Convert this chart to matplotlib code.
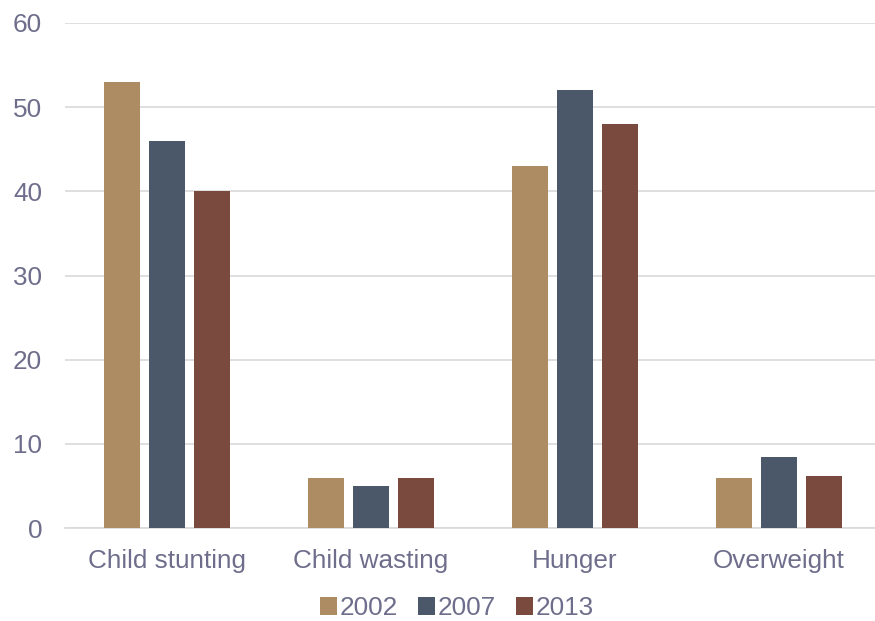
import matplotlib.pyplot as plt
import numpy as np

categories = ['Child stunting', 'Child wasting', 'Hunger', 'Overweight']
years = ['2002', '2007', '2013']
v2002 = [53, 6, 43, 5.9]
v2007 = [46, 5, 52, 8.4]
v2013 = [40, 6, 48, 6.2]

colors = ['#AD8C63', '#4A5869', '#7A4A3F']
txt = '#6E6E8C'

plt.rcParams['font.family'] = ['Liberation Sans', 'DejaVu Sans']

fig = plt.figure(figsize=(8.75, 6.21), dpi=100)
ax = fig.add_axes([65 / 875, 1 - 528 / 621, 816 / 875, 505 / 621])

x = np.arange(len(categories))
step = 45 / 204
width = 36 / 204
for i, (vals, yr) in enumerate(zip([v2002, v2007, v2013], years)):
    ax.bar(x + (i - 1) * step, vals, width, color=colors[i], label=yr, zorder=3)

ax.set_xlim(-0.5, 3.5)
ax.set_ylim(0, 60)
ax.set_yticks(range(0, 61, 10))
ax.set_xticks(x)
ax.set_xticklabels(categories)
ax.grid(axis='y', color='#D9D9D9', linewidth=1.2, zorder=0)
for s in ['top', 'right', 'left']:
    ax.spines[s].set_visible(False)
ax.spines['bottom'].set_color('#D9D9D9')
ax.spines['bottom'].set_linewidth(1.2)
ax.tick_params(axis='both', length=0, labelsize=18.8, labelcolor=txt)
ax.tick_params(axis='x', pad=15)
ax.tick_params(axis='y', pad=16.5)

leg = ax.legend(loc='center', bbox_to_anchor=(457 / 875, 1 - 608 / 621),
                bbox_transform=fig.transFigure, ncol=3, frameon=False,
                fontsize=18.8, handlelength=0.65, handleheight=0.65,
                handletextpad=0.12, columnspacing=0.75)
for t in leg.get_texts():
    t.set_color(txt)

fig.savefig('out.png', dpi=100)
